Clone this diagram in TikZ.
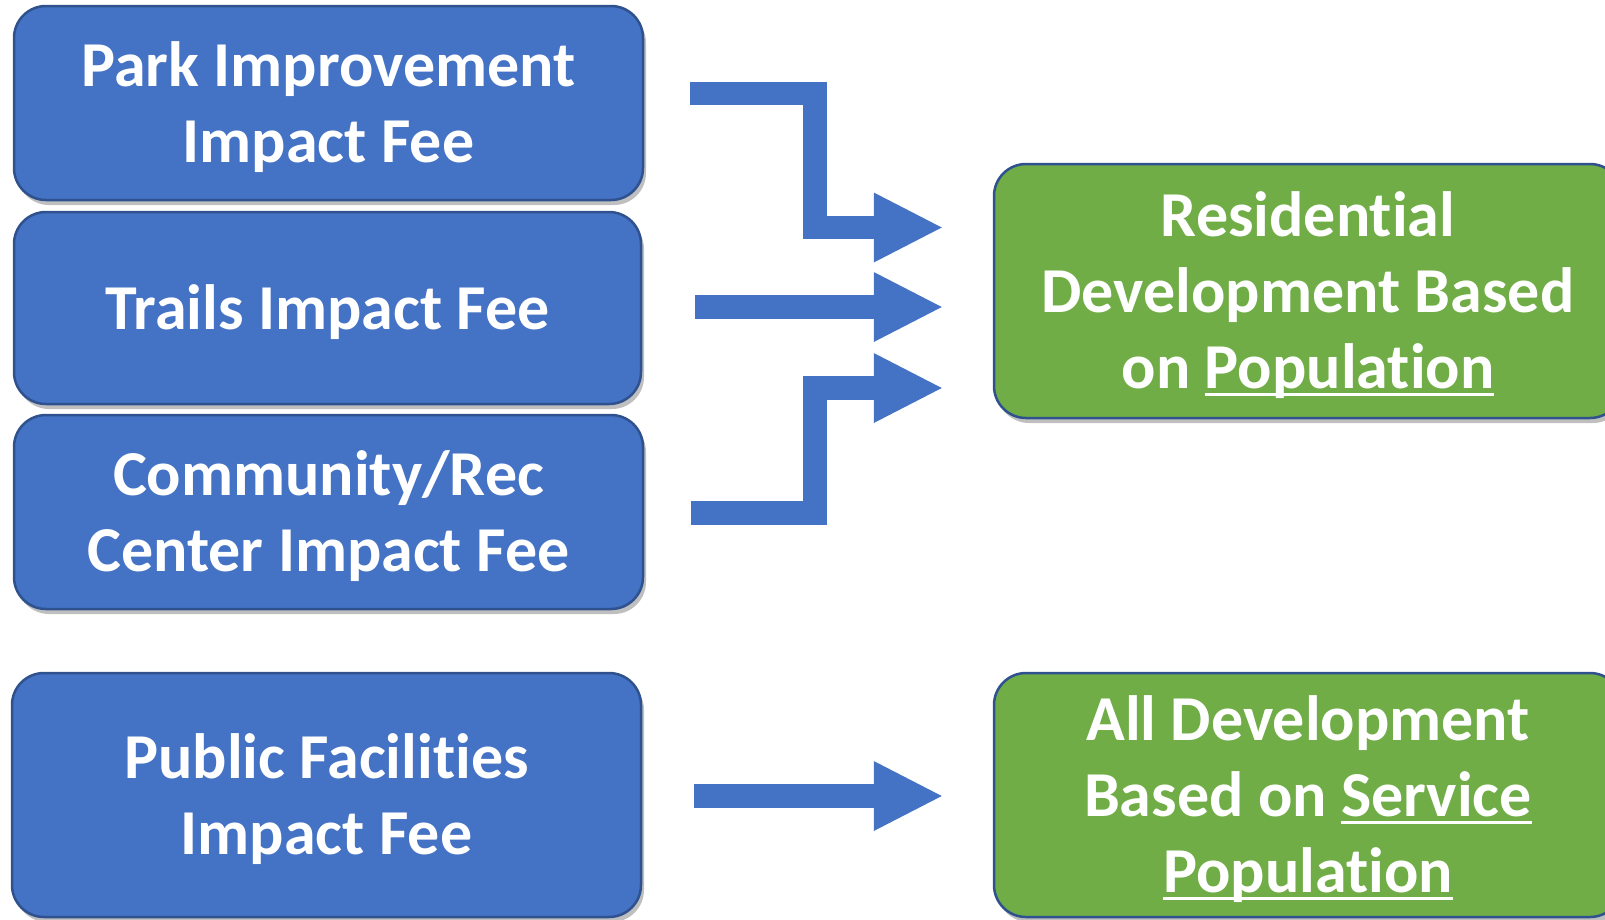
\documentclass[tikz,border=0pt]{standalone}
\usepackage{fontspec}
\setmainfont{Carlito}[Ligatures={CommonOff,ContextualOff,RareOff},Contextuals=AlternateOff]
\usetikzlibrary{arrows.meta,calc,shadows}
\definecolor{boxblue}{HTML}{4472C4}
\definecolor{boxgreen}{HTML}{70AD47}
\definecolor{edgeblue}{HTML}{2F528F}
\newcommand\ulword[1]{\setbox0=\hbox{#1}\rlap{\rule[-8pt]{\wd0}{3pt}}\box0}
\newcommand\txtlines[1]{\raisebox{-6pt}[\height][\depth]{\begin{tabular}{@{}c@{}}#1\end{tabular}}}
\tikzset{
  feebox/.style={draw=edgeblue, line width=2.5pt, fill=boxblue, rounded corners=32pt,
    text=white, font=\fontsize{64}{76}\selectfont\bfseries, inner sep=0pt,
    drop shadow={shadow xshift=3pt, shadow yshift=-5pt, fill=black, opacity=0.25}},
  basebox/.style={feebox, fill=boxgreen},
  fat/.style={draw=boxblue, line width=23.5pt, -{Triangle[length=68pt,width=70pt,line width=0pt]}}
}
\begin{document}
\begin{tikzpicture}[x=1pt,y=-1pt]
\useasboundingbox (0,0) rectangle (1605,919);
\clip (0,0) rectangle (1605,919);
\node[feebox, minimum width=629pt, minimum height=194pt] (park) at (328.5,103) {\txtlines{Park Improvement\\Impact Fee}};
\node[feebox, minimum width=627pt, minimum height=192pt] (trails) at (327.5,308) {\txtlines{Trails Impact Fee}};
\node[feebox, minimum width=629pt, minimum height=194pt] (comm) at (328.5,512) {\txtlines{Community/Rec\\Center Impact Fee}};
\node[feebox, minimum width=629pt, minimum height=244pt] (pub) at (326.5,795) {\txtlines{Public Facilities\\Impact Fee}};
\node[basebox, minimum width=628pt, minimum height=254pt] (res) at (1308,291) {\txtlines{Residential\\Development Based\\on \ulword{Population}}};
\node[basebox, minimum width=628pt, minimum height=244pt] (alldev) at (1308,795) {\txtlines{All Development\\Based on \ulword{Service}\\\ulword{Population}}};
\coordinate (t1) at ($(res.west)+(-51,-63.5)$);
\coordinate (t2) at ($(res.west)+(-51,16)$);
\coordinate (t3) at ($(res.west)+(-51,97)$);
\coordinate (t4) at ($(alldev.west)+(-51,1)$);
\draw[fat] ($(park.east)+(46,-9.5)$) -| ($(t1)+(-127,0)$) -- (t1);
\draw[fat] ($(trails.east)+(53,-1)$) -- (t2);
\draw[fat] ($(comm.east)+(47,1)$) -| ($(t3)+(-127,0)$) -- (t3);
\draw[fat] ($(pub.east)+(52,1)$) -- (t4);
\end{tikzpicture}
\end{document}
